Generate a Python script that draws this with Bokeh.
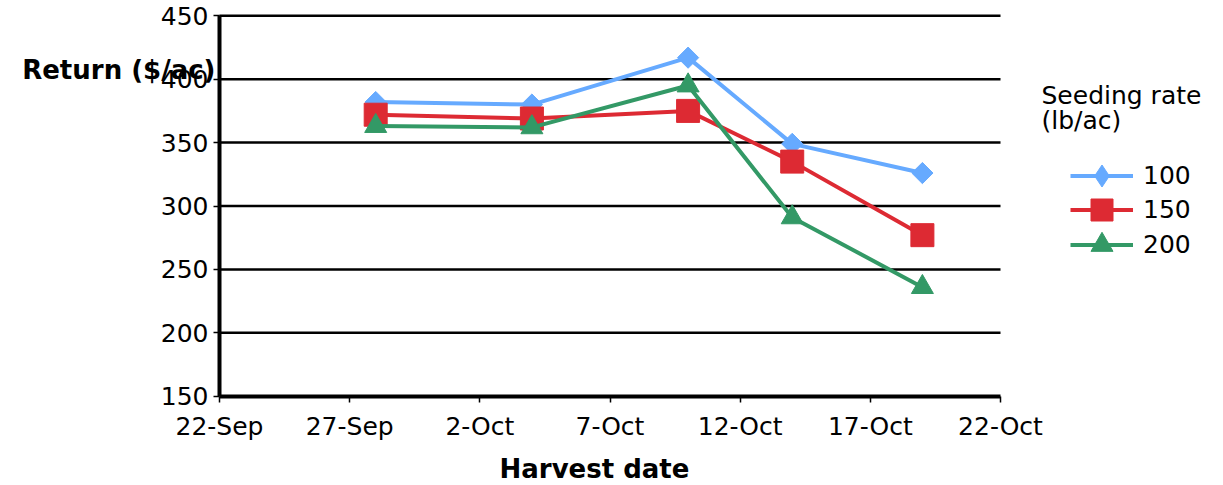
import pandas as pd
from bokeh.plotting import figure
from bokeh.models import Range1d, FixedTicker, Legend, LegendItem, Label
from bokeh.embed import file_html
from bokeh.resources import INLINE

# ---- data ----
harvest_dates = ["2009-09-28", "2009-10-04", "2009-10-10", "2009-10-14", "2009-10-19"]
rate_100 = [382, 380, 417, 349, 326]
rate_150 = [372, 369, 375, 335, 277]
rate_200 = [363, 362, 395, 291, 236]
series_names = ["100", "150", "200"]
x_tick_dates = ["2009-09-22", "2009-09-27", "2009-10-02", "2009-10-07",
                "2009-10-12", "2009-10-17", "2009-10-22"]
x_tick_labels = ["22-Sep", "27-Sep", "2-Oct", "7-Oct", "12-Oct", "17-Oct", "22-Oct"]
y_ticks = [150, 200, 250, 300, 350, 400, 450]

FONT = "DejaVu Sans"
colors = ["#66aaff", "#dd2a33", "#339966"]


def to_ms(s):
    return int(pd.Timestamp(s).value // 10**6)


x_vals = [pd.Timestamp(d).to_pydatetime() for d in harvest_dates]
tick_ms = [to_ms(d) for d in x_tick_dates]

# ---- layout: the frame spans the whole canvas; axes are pinned inside it ----
W, H = 1215, 484
axis_left_px, axis_right_px = 219, 1000      # pixel columns of first/last date tick
axis_top_px, axis_bottom_px = 15.3, 395.7    # pixel rows of top/bottom value tick
ms_per_px = (tick_ms[-1] - tick_ms[0]) / (axis_right_px - axis_left_px)
x_start = tick_ms[0] - axis_left_px * ms_per_px
x_end = tick_ms[0] + (W - axis_left_px) * ms_per_px
u_per_px = (y_ticks[-1] - y_ticks[0]) / (axis_bottom_px - axis_top_px)
y_start = y_ticks[0] - (H - axis_bottom_px) * u_per_px
y_end = y_ticks[-1] + axis_top_px * u_per_px

p = figure(width=W, height=H, x_axis_type="datetime",
           output_backend="svg", toolbar_location=None,
           x_range=Range1d(x_start, x_end),
           y_range=Range1d(y_start, y_end),
           min_border_left=0, min_border_right=0,
           min_border_top=0, min_border_bottom=0)
p.outline_line_color = None
p.background_fill_color = "white"
p.border_fill_color = "white"
p.xgrid.visible = False
p.ygrid.visible = False

# axes
p.xaxis.ticker = FixedTicker(ticks=tick_ms)
p.xaxis.bounds = (tick_ms[0], tick_ms[-1])
p.xaxis.fixed_location = y_ticks[0]
p.xaxis.major_label_overrides = {t: lab for t, lab in zip(tick_ms, x_tick_labels)}
p.yaxis.ticker = FixedTicker(ticks=y_ticks)
p.yaxis.bounds = (y_ticks[0], y_ticks[-1])
p.yaxis.fixed_location = tick_ms[0]
for ax in (p.xaxis, p.yaxis):
    ax.axis_line_color = "black"
    ax.axis_line_width = 4
    ax.major_tick_line_color = "black"
    ax.major_tick_line_width = 1.5
    ax.major_tick_out = 6
    ax.major_tick_in = 0
    ax.minor_tick_line_color = None
    ax.major_label_text_font = FONT
    ax.major_label_text_font_size = "25px"
    ax.major_label_text_color = "black"
p.xaxis.major_label_standoff = 10
p.yaxis.major_label_standoff = 5

# horizontal grid lines between the first and last date ticks
grid_y = y_ticks[1:]
p.segment(x0=[tick_ms[0]] * len(grid_y), y0=grid_y,
          x1=[tick_ms[-1]] * len(grid_y), y1=grid_y,
          line_color="black", line_width=2.5)

# series
markers = ["square", "square", "triangle"]
legend_markers = ["diamond", "square", "triangle"]
angles = [0.785398, 0.0, 0.0]
sizes = [15, 23, 22]
legend_rows = [281, 247, 212]
for name, ys, c, m, lm, a, s, ly in zip(series_names, [rate_100, rate_150, rate_200],
                                         colors, markers, legend_markers, angles,
                                         sizes, legend_rows):
    lr = p.line(x_vals, ys, line_color=c, line_width=4)
    sr = p.scatter(x_vals, ys, marker=m, size=s, angle=a,
                   fill_color=c, line_color=c)
    key = [lr, sr]
    if lm != m:
        # legend key only (the plotted diamond is a rotated square)
        kr = p.scatter(x_vals, ys, marker=lm, size=s,
                       fill_color=c, line_color=c, visible=False)
        key = [lr, kr]
    lg = Legend(items=[LegendItem(label=name, renderers=key)],
                location=(1070, ly),
                glyph_width=63, glyph_height=55, spacing=0,
                padding=0, margin=0, label_standoff=10,
                label_text_font=FONT, label_text_font_size="25px",
                label_text_color="black",
                border_line_color=None, background_fill_alpha=0)
    p.add_layout(lg, "center")

# legend title, axis titles
p.add_layout(Label(x=tick_ms[-1], y=y_ticks[-1], x_offset=41, y_offset=-80,
                   text="Seeding rate", text_font=FONT, text_font_size="25px",
                   text_color="black", text_baseline="alphabetic", text_align="left"))
p.add_layout(Label(x=tick_ms[-1], y=y_ticks[-1], x_offset=41, y_offset=-105,
                   text="(lb/ac)", text_font=FONT, text_font_size="25px",
                   text_color="black", text_baseline="alphabetic", text_align="left"))
p.add_layout(Label(x=tick_ms[0], y=y_ticks[-1], x_offset=-4, y_offset=-54,
                   text="Return ($/ac)", text_font=FONT, text_font_size="26px",
                   text_font_style="bold", text_color="black",
                   text_baseline="alphabetic", text_align="right"))
p.add_layout(Label(x=tick_ms[0], y=y_ticks[0], x_offset=280, y_offset=-73,
                   text="Harvest date", text_font=FONT, text_font_size="26px",
                   text_font_style="bold", text_color="black",
                   text_baseline="alphabetic", text_align="left"))

open("out.html", "w").write(file_html(p, INLINE))
